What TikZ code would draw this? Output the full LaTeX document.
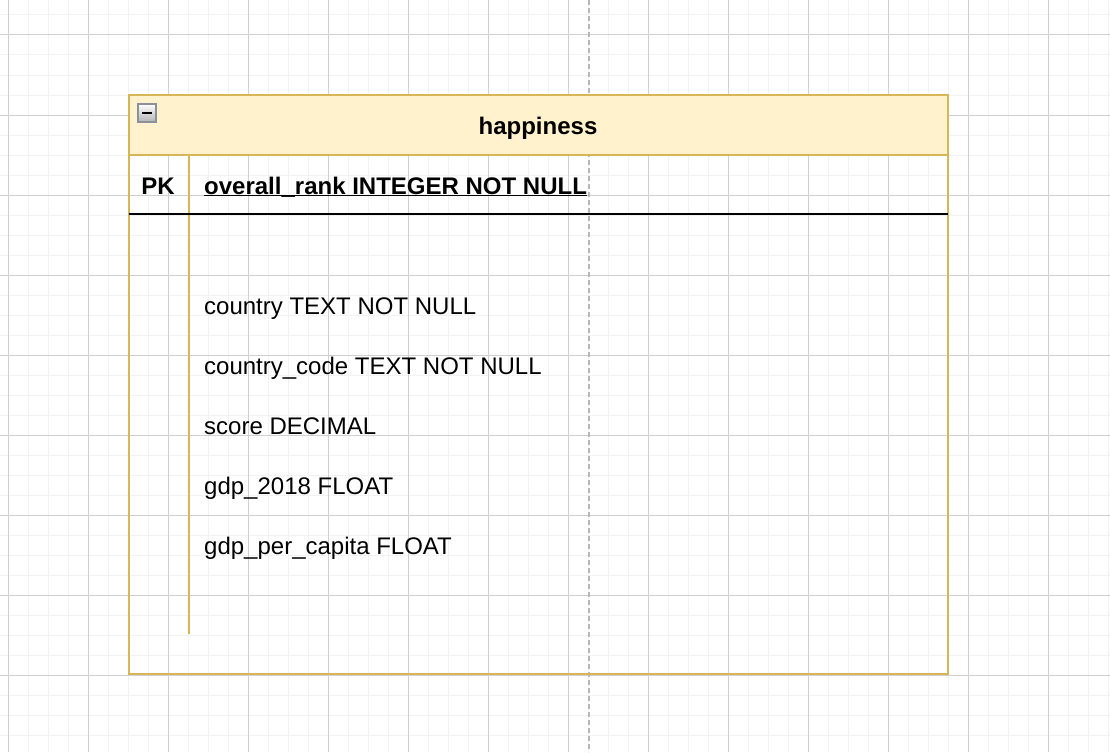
\documentclass[tikz,border=0pt]{standalone}
\usepackage{fontspec}
\setmainfont{Liberation Sans}
\usetikzlibrary{positioning}
\definecolor{headerfill}{HTML}{FFF2CC}
\definecolor{tableline}{HTML}{D6B656}
\definecolor{minorgrid}{HTML}{F2F2F2}
\definecolor{majorgrid}{HTML}{D0D0D0}
\definecolor{iconline}{HTML}{8A909C}
\tikzset{minorline/.style={draw=minorgrid,line width=1pt},
         majorline/.style={draw=majorgrid,line width=1pt},
         tableedge/.style={draw=tableline,line width=1.5pt},
         fieldtext/.style={anchor=base west,inner sep=0pt,font=\fontsize{24}{28}\selectfont},
         keytext/.style={anchor=base,inner sep=0pt,font=\fontsize{24}{28}\selectfont\bfseries}}

\begin{document}
\begin{tikzpicture}[x=1pt,y=-1pt]
        \useasboundingbox (0,0) rectangle (1110,752);
        \fill[white] (0,0) rectangle (1110,752);

        % grid
        \foreach \gx in {8,28,...,1108} \draw[minorline] (\gx,0) -- (\gx,752);
        \foreach \gy in {15,35,...,752} \draw[minorline] (0,\gy) -- (1110,\gy);
        \foreach \gx in {8,88,...,1108} \draw[majorline] (\gx,0) -- (\gx,752);
        \foreach \gy in {35,115,...,752} \draw[majorline] (0,\gy) -- (1110,\gy);
        \draw[black!28,line width=1.5pt,dash pattern=on 5pt off 3pt] (589,0) -- (589,752);

        % table
        \fill[headerfill] (129,95) rectangle (948,155);
        \draw[tableedge] (129,95) rectangle (948,674);
        \draw[tableedge] (129,155) -- (948,155);
        \draw[tableedge] (189,155) -- (189,634);
        \draw[black,line width=1.5pt] (129,214) -- (948,214);

        % collapse icon
        \shade[top color=white,bottom color=black!30,draw=iconline,line width=1.5pt] (138,104) rectangle (156,122);
        \draw[black,line width=2pt] (142,113) -- (152,113);

        \node[keytext](title)at(538,134){happiness};
        \node[keytext](pk)at(158,194.5){PK};
        \node[fieldtext,font=\fontsize{24}{28}\selectfont\bfseries](rank)at(204,194.5){overall\_rank INTEGER NOT NULL};
        \draw[black,line width=1.5pt]([yshift=-1pt]rank.base west)--([yshift=-1pt]rank.base east);

        \node[fieldtext](country)at(204,314.5){country TEXT NOT NULL};
        \node[fieldtext](code)at(204,374.5){country\_code TEXT NOT NULL};
        \node[fieldtext](score)at(204,434.5){score DECIMAL};
        \node[fieldtext](gdp)at(204,494.5){gdp\_2018 FLOAT};
        \node[fieldtext](capita)at(204,554.5){gdp\_per\_capita FLOAT};
    \end{tikzpicture}
\end{document}
